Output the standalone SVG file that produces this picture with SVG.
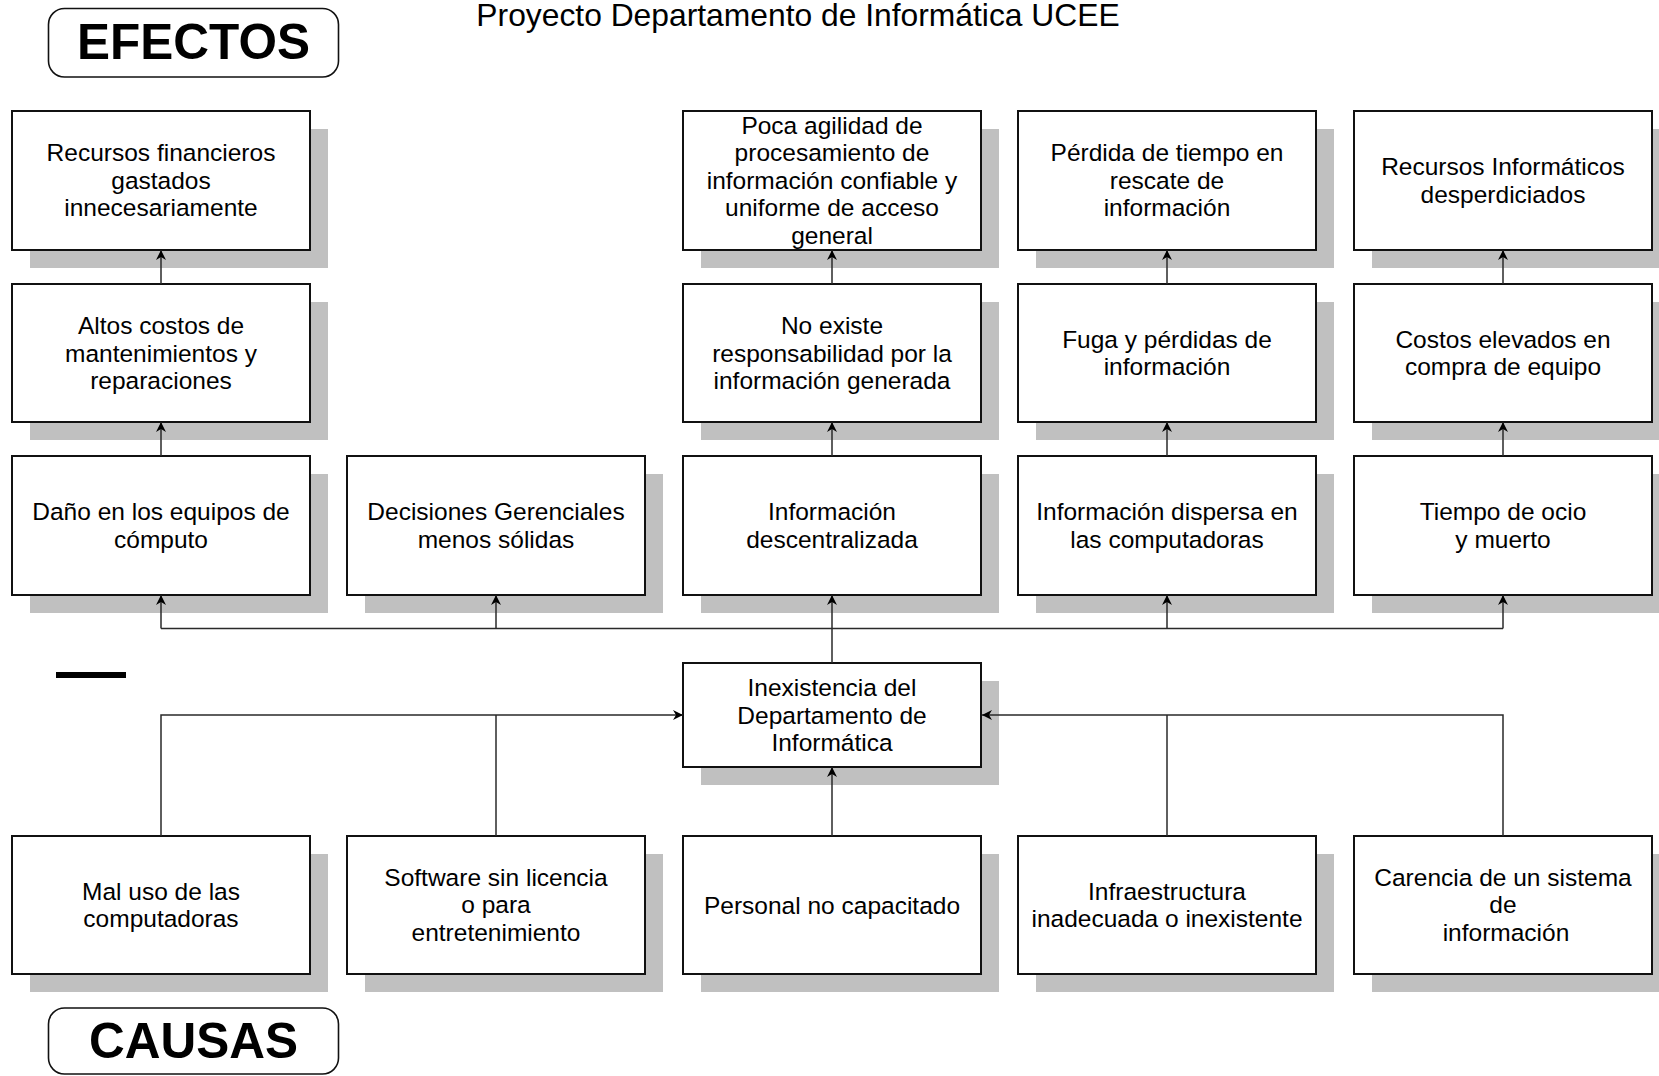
<svg xmlns="http://www.w3.org/2000/svg" width="1659" height="1076" viewBox="0 0 1659 1076">
  <defs>
    <style>
      .shadow { fill: #c0c0c0; stroke: none; }
      .box { fill: #ffffff; stroke: #111111; stroke-width: 2; }
      .label { font-family: "Liberation Sans", Arial, sans-serif; font-size: 24.5px; fill: #000000; text-anchor: middle; }
      .title { font-family: "Liberation Sans", Arial, sans-serif; font-size: 31.8px; fill: #000000; text-anchor: middle; }
      .tag { font-family: "Liberation Sans", Arial, sans-serif; font-size: 49.5px; font-weight: bold; fill: #000000; text-anchor: middle; }
      .tagbox { fill: #ffffff; stroke: #111111; stroke-width: 1.6; }
      .conn { fill: none; stroke: #2a2a2a; stroke-width: 1.5; }
    </style>
    <marker id="arrow" viewBox="-11 -6 12 12" refX="0" refY="0" markerWidth="12" markerHeight="12" markerUnits="userSpaceOnUse" orient="auto">
      <path d="M0,0 L-10,-5 L-7,0 L-10,5 Z" fill="#000000"/>
    </marker>
  </defs>

  <rect width="1659" height="1076" fill="#ffffff"/>

  <!-- heading -->
  <text class="title" x="798" y="26">Proyecto Departamento de Informática UCEE</text>

  <g id="tag-efectos">
    <rect class="tagbox" x="48.5" y="8.5" width="290" height="68.5" rx="16"/>
    <text class="tag" x="193.5" y="59">EFECTOS</text>
  </g>

  <g id="tag-causas">
    <rect class="tagbox" x="48.5" y="1008" width="290" height="66" rx="16"/>
    <text class="tag" x="193.5" y="1058">CAUSAS</text>
  </g>

  <rect id="bar" x="56" y="672" width="70" height="6" fill="#000000"/>

  <!-- row 1 effects -->
  <g id="n-recursos-financieros">
    <rect class="shadow" x="30" y="129" width="298" height="139"/>
    <rect class="box" x="12" y="111" width="298" height="139"/>
    <text class="label" x="161"><tspan x="161" y="161.4">Recursos financieros</tspan><tspan x="161" y="188.9">gastados</tspan><tspan x="161" y="216.4">innecesariamente</tspan></text>
  </g>
  <g id="n-poca-agilidad">
    <rect class="shadow" x="701" y="129" width="298" height="139"/>
    <rect class="box" x="683" y="111" width="298" height="139"/>
    <text class="label" x="832"><tspan x="832" y="133.9">Poca agilidad de</tspan><tspan x="832" y="161.4">procesamiento de</tspan><tspan x="832" y="188.9">información confiable y</tspan><tspan x="832" y="216.4">uniforme de acceso</tspan><tspan x="832" y="243.9">general</tspan></text>
  </g>
  <g id="n-perdida-tiempo">
    <rect class="shadow" x="1036" y="129" width="298" height="139"/>
    <rect class="box" x="1018" y="111" width="298" height="139"/>
    <text class="label" x="1167"><tspan x="1167" y="161.4">Pérdida de tiempo en</tspan><tspan x="1167" y="188.9">rescate de</tspan><tspan x="1167" y="216.4">información</tspan></text>
  </g>
  <g id="n-recursos-informaticos">
    <rect class="shadow" x="1372" y="129" width="298" height="139"/>
    <rect class="box" x="1354" y="111" width="298" height="139"/>
    <text class="label" x="1503"><tspan x="1503" y="175.2">Recursos Informáticos</tspan><tspan x="1503" y="202.7">desperdiciados</tspan></text>
  </g>

  <!-- row 2 effects -->
  <g id="n-altos-costos">
    <rect class="shadow" x="30" y="302" width="298" height="138"/>
    <rect class="box" x="12" y="284" width="298" height="138"/>
    <text class="label" x="161"><tspan x="161" y="334">Altos costos de</tspan><tspan x="161" y="361.5">mantenimientos y</tspan><tspan x="161" y="389">reparaciones</tspan></text>
  </g>
  <g id="n-no-responsabilidad">
    <rect class="shadow" x="701" y="302" width="298" height="138"/>
    <rect class="box" x="683" y="284" width="298" height="138"/>
    <text class="label" x="832"><tspan x="832" y="334">No existe</tspan><tspan x="832" y="361.5">responsabilidad por la</tspan><tspan x="832" y="389">información generada</tspan></text>
  </g>
  <g id="n-fuga">
    <rect class="shadow" x="1036" y="302" width="298" height="138"/>
    <rect class="box" x="1018" y="284" width="298" height="138"/>
    <text class="label" x="1167"><tspan x="1167" y="347.8">Fuga y pérdidas de</tspan><tspan x="1167" y="375.3">información</tspan></text>
  </g>
  <g id="n-costos-elevados">
    <rect class="shadow" x="1372" y="302" width="298" height="138"/>
    <rect class="box" x="1354" y="284" width="298" height="138"/>
    <text class="label" x="1503"><tspan x="1503" y="347.8">Costos elevados en</tspan><tspan x="1503" y="375.3">compra de equipo</tspan></text>
  </g>

  <!-- row 3 direct effects -->
  <g id="n-dano-equipos">
    <rect class="shadow" x="30" y="474" width="298" height="139"/>
    <rect class="box" x="12" y="456" width="298" height="139"/>
    <text class="label" x="161"><tspan x="161" y="520">Daño en los equipos de</tspan><tspan x="161" y="547.5">cómputo</tspan></text>
  </g>
  <g id="n-decisiones">
    <rect class="shadow" x="365" y="474" width="298" height="139"/>
    <rect class="box" x="347" y="456" width="298" height="139"/>
    <text class="label" x="496"><tspan x="496" y="520">Decisiones Gerenciales</tspan><tspan x="496" y="547.5">menos sólidas</tspan></text>
  </g>
  <g id="n-descentralizada">
    <rect class="shadow" x="701" y="474" width="298" height="139"/>
    <rect class="box" x="683" y="456" width="298" height="139"/>
    <text class="label" x="832"><tspan x="832" y="520">Información</tspan><tspan x="832" y="547.5">descentralizada</tspan></text>
  </g>
  <g id="n-dispersa">
    <rect class="shadow" x="1036" y="474" width="298" height="139"/>
    <rect class="box" x="1018" y="456" width="298" height="139"/>
    <text class="label" x="1167"><tspan x="1167" y="520">Información dispersa en</tspan><tspan x="1167" y="547.5">las computadoras</tspan></text>
  </g>
  <g id="n-tiempo-ocio">
    <rect class="shadow" x="1372" y="474" width="298" height="139"/>
    <rect class="box" x="1354" y="456" width="298" height="139"/>
    <text class="label" x="1503"><tspan x="1503" y="520">Tiempo de ocio</tspan><tspan x="1503" y="547.5">y muerto</tspan></text>
  </g>

  <!-- central problem -->
  <g id="n-inexistencia">
    <rect class="shadow" x="701" y="681" width="298" height="104"/>
    <rect class="box" x="683" y="663" width="298" height="104"/>
    <text class="label" x="832"><tspan x="832" y="696">Inexistencia del</tspan><tspan x="832" y="723.5">Departamento de</tspan><tspan x="832" y="751">Informática</tspan></text>
  </g>

  <!-- causes -->
  <g id="n-mal-uso">
    <rect class="shadow" x="30" y="854" width="298" height="138"/>
    <rect class="box" x="12" y="836" width="298" height="138"/>
    <text class="label" x="161"><tspan x="161" y="899.5">Mal uso de las</tspan><tspan x="161" y="927">computadoras</tspan></text>
  </g>
  <g id="n-software">
    <rect class="shadow" x="365" y="854" width="298" height="138"/>
    <rect class="box" x="347" y="836" width="298" height="138"/>
    <text class="label" x="496"><tspan x="496" y="885.7">Software sin licencia</tspan><tspan x="496" y="913.2">o para</tspan><tspan x="496" y="940.7">entretenimiento</tspan></text>
  </g>
  <g id="n-personal">
    <rect class="shadow" x="701" y="854" width="298" height="138"/>
    <rect class="box" x="683" y="836" width="298" height="138"/>
    <text class="label" x="832" y="913.5">Personal no capacitado</text>
  </g>
  <g id="n-infraestructura">
    <rect class="shadow" x="1036" y="854" width="298" height="138"/>
    <rect class="box" x="1018" y="836" width="298" height="138"/>
    <text class="label" x="1167"><tspan x="1167" y="899.5">Infraestructura</tspan><tspan x="1167" y="927">inadecuada o inexistente</tspan></text>
  </g>
  <g id="n-carencia">
    <rect class="shadow" x="1372" y="854" width="298" height="138"/>
    <rect class="box" x="1354" y="836" width="298" height="138"/>
    <text class="label" x="1503"><tspan x="1503" y="885.7">Carencia de un sistema</tspan><tspan x="1503" y="913.2">de</tspan><tspan x="1506" y="940.7">información</tspan></text>
  </g>

  <!-- connectors, drawn over the drop shadows -->
  <g id="connectors">
    <!-- effect chains -->
    <path class="conn" d="M161,284 V250" marker-end="url(#arrow)"/>
    <path class="conn" d="M161,456 V422" marker-end="url(#arrow)"/>
    <path class="conn" d="M832,284 V250" marker-end="url(#arrow)"/>
    <path class="conn" d="M832,456 V422" marker-end="url(#arrow)"/>
    <path class="conn" d="M1167,284 V250" marker-end="url(#arrow)"/>
    <path class="conn" d="M1167,456 V422" marker-end="url(#arrow)"/>
    <path class="conn" d="M1503,284 V250" marker-end="url(#arrow)"/>
    <path class="conn" d="M1503,456 V422" marker-end="url(#arrow)"/>
    <!-- central problem to direct effects -->
    <path class="conn" d="M832,663 V595" marker-end="url(#arrow)"/>
    <path class="conn" d="M161,628.5 H1503"/>
    <path class="conn" d="M161,628.5 V595" marker-end="url(#arrow)"/>
    <path class="conn" d="M496,628.5 V595" marker-end="url(#arrow)"/>
    <path class="conn" d="M1167,628.5 V595" marker-end="url(#arrow)"/>
    <path class="conn" d="M1503,628.5 V595" marker-end="url(#arrow)"/>
    <!-- causes to central problem -->
    <path class="conn" d="M161,836 V715 H683" marker-end="url(#arrow)"/>
    <path class="conn" d="M496,836 V715"/>
    <path class="conn" d="M1503,836 V715 H982" marker-end="url(#arrow)"/>
    <path class="conn" d="M1167,836 V715"/>
    <path class="conn" d="M832,836 V767" marker-end="url(#arrow)"/>
  </g>
</svg>
